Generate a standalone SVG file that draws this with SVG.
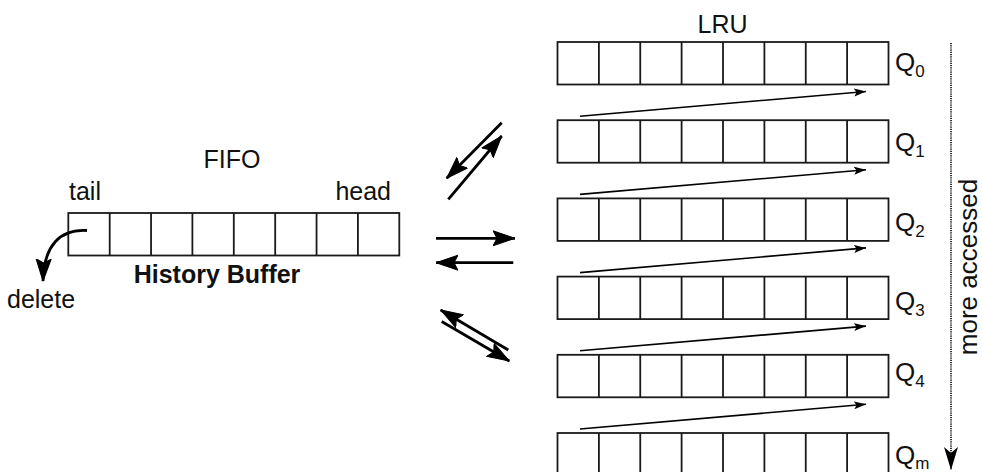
<svg xmlns="http://www.w3.org/2000/svg" xmlns:xlink="http://www.w3.org/1999/xlink" width="982" height="472" viewBox="0 0 982 472">
  <style>
    .cell { fill: #fff; stroke: #1a1a1a; stroke-width: 1.8; }
    .div { fill: none; stroke: #1a1a1a; stroke-width: 1.8; }
    text { font-family: "Liberation Sans", Arial, sans-serif; fill: #111; }
    .lbl { font-size: 25px; }
    .q { font-size: 26px; }
    .bold { font-size: 25px; font-weight: bold; }
    .sub { font-size: 17px; }
    .big { fill: none; stroke: #000; stroke-width: 2.8; marker-end: url(#headBig); }
    .thin { fill: none; stroke: #000; stroke-width: 1.6; marker-end: url(#headSmall); }
    .dots { fill: none; stroke: #222; stroke-width: 1.8; stroke-dasharray: 1.2 1; marker-end: url(#headDot); }
  </style>
  <defs>
    <marker id="headBig" markerUnits="userSpaceOnUse" markerWidth="24" markerHeight="18" refX="22" refY="9" orient="auto" viewBox="0 0 24 18">
      <path d="M0,1.5 L22,9 L0,16.5 L4,9 z" fill="#000" stroke="#000" stroke-width="1" stroke-linejoin="round"/>
    </marker>
    <marker id="headSmall" markerUnits="userSpaceOnUse" markerWidth="13" markerHeight="9" refX="12" refY="4.5" orient="auto" viewBox="0 0 13 9">
      <path d="M0,0.5 L12,4.5 L0,8.5 L2.5,4.5 z" fill="#000"/>
    </marker>
    <marker id="headDot" markerUnits="userSpaceOnUse" markerWidth="24" markerHeight="17" refX="23" refY="8.5" orient="auto" viewBox="0 0 24 17">
      <path d="M0,1.5 L23,8.5 L0,15.5 L6,8.5 z" fill="#000"/>
    </marker>
    <!-- one buffer of eight slots -->
    <g id="slots">
      <rect class="cell" x="0" y="0" width="331" height="42.5"/>
      <path class="div" d="M41.4,0v42.5M82.75,0v42.5M124.1,0v42.5M165.5,0v42.5M206.9,0v42.5M248.25,0v42.5M289.6,0v42.5"/>
    </g>
  </defs>

  <!-- FIFO history buffer -->
  <g id="fifo">
    <text class="lbl" x="232" y="168" text-anchor="middle">FIFO</text>
    <text class="lbl" x="69" y="200">tail</text>
    <text class="lbl" x="391" y="200" text-anchor="end">head</text>
    <use xlink:href="#slots" x="68.3" y="213"/>
    <text class="bold" x="217" y="283" text-anchor="middle">History Buffer</text>
    <text class="lbl" x="7" y="308">delete</text>
  </g>

  <!-- LRU queues -->
  <g id="lru">
    <text class="lbl" x="722.5" y="33" text-anchor="middle">LRU</text>
  </g>
  <g id="q0">
    <use xlink:href="#slots" x="557.5" y="42"/>
    <text class="q" x="895" y="71">Q<tspan class="sub" dy="6">0</tspan></text>
  </g>
  <g id="q1">
    <use xlink:href="#slots" x="557.5" y="120.2"/>
    <text class="q" x="895" y="151">Q<tspan class="sub" dy="6">1</tspan></text>
  </g>
  <g id="q2">
    <use xlink:href="#slots" x="557.5" y="198.4"/>
    <text class="q" x="895" y="231">Q<tspan class="sub" dy="6">2</tspan></text>
  </g>
  <g id="q3">
    <use xlink:href="#slots" x="557.5" y="276.6"/>
    <text class="q" x="895" y="310">Q<tspan class="sub" dy="6">3</tspan></text>
  </g>
  <g id="q4">
    <use xlink:href="#slots" x="557.5" y="354.8"/>
    <text class="q" x="895" y="381">Q<tspan class="sub" dy="6">4</tspan></text>
  </g>
  <g id="qm">
    <use xlink:href="#slots" x="557.5" y="433"/>
    <text class="q" x="895" y="464">Q<tspan class="sub" dy="5">m</tspan></text>
  </g>

  <!-- access direction -->
  <g id="axis">
    <path class="dots" d="M951,43 V470"/>
    <text class="lbl" style="font-size:26px" transform="translate(977,267) rotate(-90)" text-anchor="middle">more accessed</text>
  </g>

  <!-- connectors -->
  <g id="connectors">
    <path class="big" d="M87,230.5 C60,229 44,245 43,281"/>
    <path class="big" d="M501.7,122.7 L446.7,178.3"/>
    <path class="big" d="M448.3,199.3 L501.7,136"/>
    <path class="big" d="M436,238.3 L515,238.3"/>
    <path class="big" d="M513.3,262.7 L436,262.7"/>
    <path class="big" d="M508.3,350 L440.7,310"/>
    <path class="big" d="M441.7,321.5 L509.3,361"/>
    <path class="thin" d="M580,116.2 L866,91.5"/>
    <path class="thin" d="M580,194.4 L866,169.7"/>
    <path class="thin" d="M580,272.6 L866,247.9"/>
    <path class="thin" d="M580,350.8 L866,326.1"/>
    <path class="thin" d="M580,429 L866,404.3"/>
  </g>
</svg>
